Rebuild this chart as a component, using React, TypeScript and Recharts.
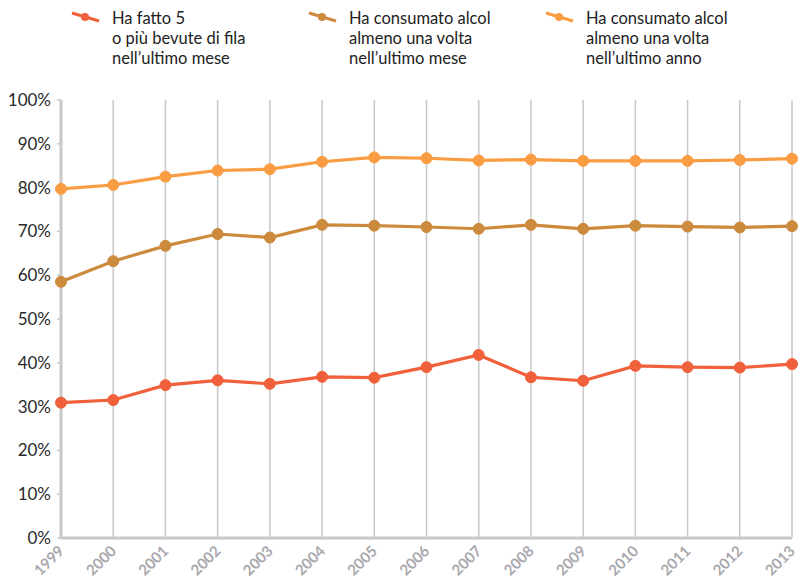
import React from 'react'
import { LineChart, Line, XAxis, YAxis, CartesianGrid } from 'recharts'

const years = ['1999', '2000', '2001', '2002', '2003', '2004', '2005', '2006', '2007', '2008', '2009', '2010', '2011', '2012', '2013']

const binge = [30.9, 31.5, 34.9, 36.0, 35.2, 36.8, 36.6, 39.0, 41.8, 36.7, 35.9, 39.3, 39.0, 38.9, 39.7]
const lastMonth = [58.5, 63.2, 66.7, 69.4, 68.6, 71.5, 71.3, 71.0, 70.6, 71.5, 70.6, 71.3, 71.1, 70.9, 71.2]
const lastYear = [79.7, 80.6, 82.5, 83.9, 84.2, 85.9, 86.9, 86.7, 86.2, 86.4, 86.1, 86.1, 86.1, 86.3, 86.6]

const yTicks = [0, 10, 20, 30, 40, 50, 60, 70, 80, 90, 100]

const series = [
  { key: 'binge', color: '#f0603a', label: ['Ha fatto 5', 'o più bevute di fila', 'nell\u2019ultimo mese'] },
  { key: 'lastMonth', color: '#cc8a3c', label: ['Ha consumato alcol', 'almeno una volta', 'nell\u2019ultimo mese'] },
  { key: 'lastYear', color: '#f99c42', label: ['Ha consumato alcol', 'almeno una volta', 'nell\u2019ultimo anno'] },
]

const data = years.map((year, i) => ({
  year,
  binge: binge[i],
  lastMonth: lastMonth[i],
  lastYear: lastYear[i],
}))

const font = 'Lato, sans-serif'

function YearTick({ x, y, payload }: any) {
  return (
    <text
      x={x + 4}
      y={y + 6}
      textAnchor="end"
      transform={`rotate(-45 ${x + 4} ${y + 6})`}
      fill="#a8a8ad"
      fontSize={15}
      fontWeight={700}
      fontFamily={font}
    >
      {payload.value}
    </text>
  )
}

function LegendBox() {
  const lefts = [71, 308, 545]
  return (
    <div style={{ position: 'absolute', left: 0, top: 0, width: 798, height: 80, fontFamily: font }}>
      {series.map((s, i) => (
        <div key={s.key} style={{ position: 'absolute', left: lefts[i], top: 0 }}>
          <svg width={30} height={14} style={{ position: 'absolute', left: 0, top: 11 }}>
            <line x1={1} y1={2} x2={28} y2={10} stroke={s.color} strokeWidth={3} />
            <circle cx={14} cy={6} r={4} fill={s.color} />
          </svg>
          <div style={{ position: 'absolute', left: 41, top: 9, width: 200, fontSize: 16.5, lineHeight: '19.8px', color: '#222', whiteSpace: 'nowrap' }}>
            {s.label.map((t) => (
              <div key={t}>{t}</div>
            ))}
          </div>
        </div>
      ))}
    </div>
  )
}

export default function App() {
  return (
    <div style={{ position: 'absolute', left: 0, top: 0, width: 798, height: 579, background: '#fff' }}>
      <LegendBox />
      <LineChart width={798} height={579} data={data} margin={{ top: 100, right: 6, bottom: 6, left: 0 }}>
        <CartesianGrid horizontal={false} stroke="#c8c8c8" strokeWidth={1.5} />
        <XAxis
          dataKey="year"
          padding={{ left: 0, right: 0 }}
          axisLine={{ stroke: '#c8c8c8', strokeWidth: 3 }}
          tickLine={false}
          tick={<YearTick />}
          interval={0}
          height={35}
        />
        <YAxis
          domain={[0, 100]}
          ticks={yTicks}
          width={61}
          tickFormatter={(v) => `${v}%`}
          axisLine={{ stroke: '#c8c8c8', strokeWidth: 3 }}
          tickLine={{ stroke: '#c8c8c8', strokeWidth: 1.5 }}
          tickSize={4}
          tickMargin={6}
          tick={{ fill: '#2a2a2a', fontSize: 17, fontFamily: font }}
        />
        {series.map((s) => (
          <Line
            key={s.key}
            dataKey={s.key}
            stroke={s.color}
            strokeWidth={3.2}
            dot={{ r: 5.5, fill: s.color, stroke: s.color, strokeWidth: 1 }}
            activeDot={false}
            isAnimationActive={false}
          />
        ))}
      </LineChart>
    </div>
  )
}
